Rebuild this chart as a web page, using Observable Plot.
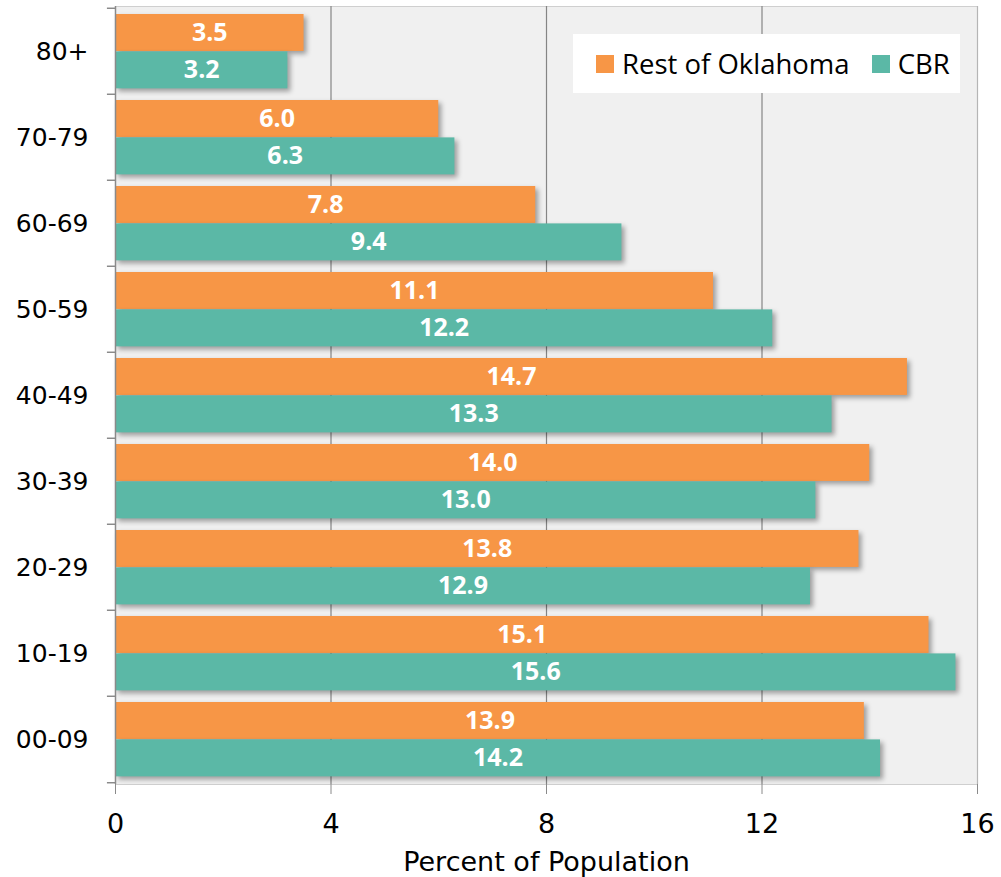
<!DOCTYPE html>
<html>
<head>
<meta charset="utf-8">
<script src="https://cdn.jsdelivr.net/npm/d3@7"></script>
<script src="https://cdn.jsdelivr.net/npm/@observablehq/plot@0.6"></script>
<style>
  body { margin: 0; background: #fff; }
  #wrap { position: relative; width: 1001px; height: 877px; }
  .legend { position: absolute; left: 573px; top: 34px; width: 387px; height: 59px; background: #fff;
    display: flex; align-items: center; font-family: "Open Sans", sans-serif; font-size: 27.5px; color: #000; }
  .legend .sw { display: inline-block; width: 18px; height: 18px; margin-right: 8px; }
  .legend .item { display: flex; align-items: center; }
</style>
</head>
<body>
<div id="wrap"></div>
<script>
const categories = ["80+", "70-79", "60-69", "50-59", "40-49", "30-39", "20-29", "10-19", "00-09"];
const restValues = [3.5, 6.0, 7.8, 11.1, 14.7, 14.0, 13.8, 15.1, 13.9];
const cbrValues  = [3.2, 6.3, 9.4, 12.2, 13.3, 13.0, 12.9, 15.6, 14.2];
const seriesNames = ["Rest of Oklahoma", "CBR"];
const seriesColors = ["#F79646", "#5BB8A6"];
const xTicks = [0, 4, 8, 12, 16];
const xLabel = "Percent of Population";

const rest = categories.map((c, i) => ({cat: c, series: seriesNames[0], value: restValues[i]}));
const cbr = categories.map((c, i) => ({cat: c, series: seriesNames[1], value: cbrValues[i]}));

const marginTop = 6, marginBottom = 93, H = 877;
const step = (H - marginTop - marginBottom) / categories.length;
const barH = 37.4;
const topInset = 6;

const plot = Plot.plot({
  width: 1001,
  height: H,
  marginLeft: 115,
  marginRight: 24,
  marginTop,
  marginBottom,
  style: {fontFamily: "DejaVu Sans", fontSize: "25px", color: "#000", background: "#fff"},
  x: {domain: [0, 16], ticks: xTicks, label: null},
  y: {domain: categories, padding: 0, label: null},
  marks: [
    Plot.frame({fill: "#f0f0f0", stroke: "#cfcfcf"}),
    Plot.ruleX([4, 8, 12], {stroke: "#858585", strokeWidth: 1.2}),
    Plot.ruleX([16], {stroke: "#b5b5b5", strokeWidth: 1.2}),
    Plot.barX(rest, {y: "cat", x: "value", fill: seriesColors[0], insetTop: topInset, insetBottom: step - topInset - barH}),
    Plot.barX(cbr, {y: "cat", x: "value", fill: seriesColors[1], insetTop: topInset + barH, insetBottom: step - topInset - 2 * barH}),
    Plot.text(rest, {y: "cat", x: d => d.value / 2, text: d => d.value.toFixed(1), dy: topInset + barH / 2 - step / 2,
      fill: "#fff", fontFamily: "Open Sans", fontWeight: "bold", fontSize: 25}),
    Plot.text(cbr, {y: "cat", x: d => d.value / 2, text: d => d.value.toFixed(1), dy: topInset + 1.5 * barH - step / 2,
      fill: "#fff", fontFamily: "Open Sans", fontWeight: "bold", fontSize: 25}),
    Plot.ruleX([0], {stroke: "#8a8a8a", strokeWidth: 1.5}),
    Plot.ruleY(categories, {y: d => d, x1: -0.15, x2: 0, dy: -step / 2, stroke: "#8a8a8a", strokeWidth: 1.5}),
    Plot.ruleY(categories.slice(-1), {y: d => d, x1: -0.15, x2: 0, dy: step / 2, stroke: "#8a8a8a", strokeWidth: 1.5}),
    Plot.axisX(xTicks, {tickSize: 10, tickPadding: 19, fontSize: 27, stroke: "#8a8a8a", fill: "#000", label: null}),
    Plot.axisY({tickSize: 0, tickPadding: 27, fontSize: 25, fill: "#000", label: null}),
    Plot.text([xLabel], {text: d => d, frameAnchor: "bottom", dy: 86, fontSize: 27, fill: "#000"})
  ]
});

plot.querySelectorAll('g[aria-label="bar"]').forEach(g => {
  g.style.filter = "drop-shadow(3px 3px 2.5px rgba(0,0,0,0.35))";
});

const wrap = document.getElementById("wrap");
wrap.appendChild(plot);

const legend = document.createElement("div");
legend.className = "legend";
seriesNames.forEach((name, i) => {
  const item = document.createElement("span");
  item.className = "item";
  item.style.marginLeft = i === 0 ? "23px" : "22px";
  const sw = document.createElement("span");
  sw.className = "sw";
  sw.style.background = seriesColors[i];
  item.appendChild(sw);
  item.appendChild(document.createTextNode(name));
  legend.appendChild(item);
});
wrap.appendChild(legend);
</script>
</body>
</html>
